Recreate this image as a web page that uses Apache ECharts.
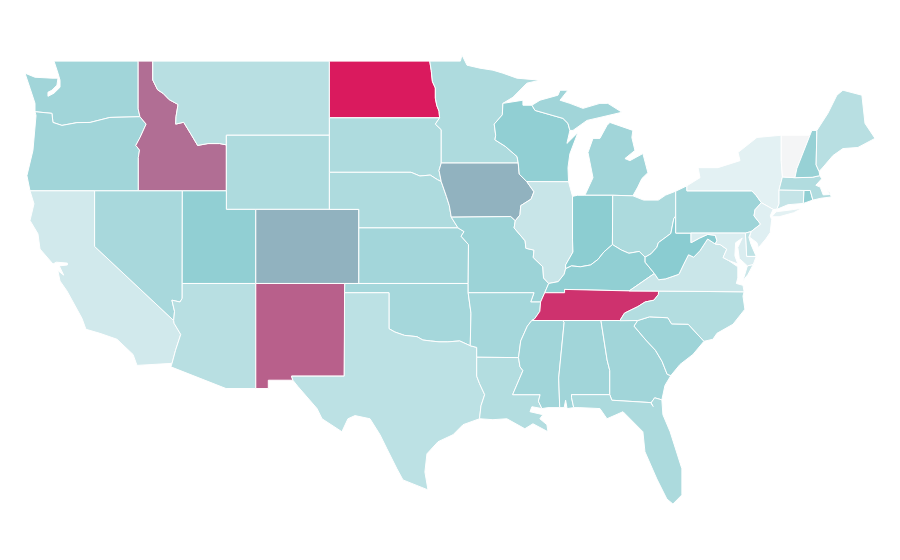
<!DOCTYPE html>
<html style="height: 100%">
<head>
<meta charset="utf-8">
<title>US states</title>
<script src="https://cdn.jsdelivr.net/npm/echarts@6/dist/echarts.min.js"></script>
</head>
<body style="height: 100%; margin: 0; background: #fff">
<div id="container" style="width: 900px; height: 560px"></div>
<script type="text/javascript">
var stateNames = ['Washington','Oregon','California','Idaho','Nevada','Montana','Wyoming','Utah','Arizona','Colorado','New Mexico',
  'North Dakota','South Dakota','Nebraska','Kansas','Oklahoma','Texas','Minnesota','Iowa','Missouri','Arkansas','Louisiana',
  'Wisconsin','Illinois','Michigan','Indiana','Ohio','Kentucky','Tennessee','Mississippi','Alabama','Georgia','Florida',
  'South Carolina','North Carolina','Virginia','West Virginia','Pennsylvania','New York','New Jersey','Delaware','Maryland',
  'Connecticut','Rhode Island','Massachusetts','Vermont','New Hampshire','Maine'];
var stateValues = [38,38,17,76,35,28,32,45,28,57,80,
  100,32,32,37,36,26,32,57,40,36,30,
  45,21,38,47,33,45,93,38,38,38,33,
  39,30,20,48,39,9,11,25,13,
  22,45,31,0,42,28];
// colour ramp, evenly spread over 0..100
var colorStops = ['#f4f5f6','#e1f0f3','#cae6e9','#b3dde0','#9cd3d7','#85cacf','#96a7b8','#a784a2','#b8608b','#c93d75','#da1a5e'];

// state outlines, flat lon,lat lists
var stateShapes = {
  'Washington': [[-122.76,49,-117.04,49,-117.04,46.42,-116.92,46,-118.96,45.96,-120.31,45.69,-121.2,45.68,-122.22,45.53,-122.83,45.69,-122.9,46.18,-124.05,46.27,-124.05,46.72,-124.39,47.54,-124.73,48.35,-124.05,48.13,-122.9,48.08,-122.49,48.08,-122.56,47.7,-122.9,47.43,-123.17,47.32,-123.17,47.1,-122.76,47.27,-122.35,47.59,-122.35,47.97,-122.49,48.35]],
  'Oregon': [[-124.05,46.27,-122.9,46.18,-122.83,45.69,-122.22,45.53,-121.2,45.68,-120.31,45.69,-118.96,45.96,-116.92,46,-116.5,45.6,-116.9,44.9,-117.2,44.45,-116.95,44.2,-117.03,43.8,-117.03,42,-124.39,42,-124.6,42.82,-124.19,44.18,-123.98,46.07]],
  'California': [[-124.39,42,-120,42,-120,39,-114.63,35,-114.6,34.85,-114.15,34.25,-114.5,33.4,-114.74,32.69,-117.12,32.58,-117.39,33.17,-118.48,33.99,-119.64,34.31,-120.59,34.53,-120.86,35.12,-121.88,36.6,-122.35,37.13,-122.5,37.7,-122.45,37.75,-122.1,37.45,-122.4,37.95,-121.85,38,-121.85,38.1,-122.6,38.15,-122.83,38.05,-123.71,38.86,-123.85,39.68,-124.39,40.4,-124.12,41.3]],
  'Idaho': [[-117.04,49,-116.05,49,-116.05,47.98,-115.72,47.45,-115.35,47.26,-114.93,46.92,-114.33,46.66,-114.47,46,-114.49,45.6,-113.95,45.7,-113.45,45.05,-113,44.45,-112.3,44.55,-111.5,44.55,-111.05,44.48,-111.05,42,-117.03,42,-117.03,43.8,-116.95,44.2,-117.2,44.45,-116.9,44.9,-116.5,45.6,-116.92,46,-117.04,46.42]],
  'Nevada': [[-120,42,-114.04,42,-114.05,37,-114.05,36.2,-114.2,36,-114.75,36.1,-114.57,35.5,-114.63,35,-120,39]],
  'Montana': [[-116.05,49,-104.05,49,-104.05,45,-111.05,45,-111.05,44.48,-111.5,44.55,-112.3,44.55,-113,44.45,-113.45,45.05,-113.95,45.7,-114.49,45.6,-114.47,46,-114.33,46.66,-114.93,46.92,-115.35,47.26,-115.72,47.45,-116.05,47.98]],
  'Wyoming': [[-111.05,45,-104.05,45,-104.05,41,-111.05,41]],
  'Utah': [[-114.04,42,-111.05,42,-111.05,41,-109.05,41,-109.05,37,-114.05,37]],
  'Arizona': [[-114.05,37,-109.05,37,-109.05,31.33,-111.07,31.33,-114.82,32.5,-114.74,32.69,-114.5,33.4,-114.15,34.25,-114.6,34.85,-114.63,35,-114.57,35.5,-114.75,36.1,-114.2,36,-114.05,36.2]],
  'Colorado': [[-109.05,41,-102.05,41,-102.05,37,-109.05,37]],
  'New Mexico': [[-109.05,37,-103,37,-103.04,32,-106.62,32,-106.53,31.78,-108.2,31.78,-108.2,31.33,-109.05,31.33]],
  'North Dakota': [[-104.05,49,-97.23,49,-97.13,48.5,-97.05,47.9,-96.85,47.55,-96.85,47,-96.75,46.6,-96.6,46.3,-96.56,45.94,-104.05,45.94]],
  'South Dakota': [[-104.05,45.94,-96.56,45.94,-96.85,45.6,-96.45,45.3,-96.45,43.5,-96.6,43.1,-96.45,42.5,-96.7,42.6,-97.2,42.85,-97.9,42.8,-98.5,43,-104.05,43]],
  'Nebraska': [[-104.05,43,-98.5,43,-97.9,42.8,-97.2,42.85,-96.7,42.6,-96.45,42.5,-96.1,41.7,-95.9,41.2,-95.77,40.58,-95.31,40,-102.05,40,-102.05,41,-104.05,41]],
  'Kansas': [[-102.05,40,-95.31,40,-94.9,39.8,-95.1,39.55,-94.6,39.1,-94.62,37,-102.05,37]],
  'Oklahoma': [[-103,37,-94.62,37,-94.62,36.5,-94.43,35.4,-94.48,33.64,-95.2,33.9,-96,33.85,-96.6,33.85,-97.2,33.9,-97.7,33.95,-98.1,34.13,-98.95,34.2,-99.6,34.38,-100,34.56,-100,36.5,-103.02,36.5]],
  'Texas': [[-103.02,36.5,-100,36.5,-100,34.56,-99.6,34.38,-98.95,34.2,-98.1,34.13,-97.7,33.95,-97.2,33.9,-96.6,33.85,-96,33.85,-95.2,33.9,-94.48,33.64,-94.04,33.55,-94.04,33.02,-94.04,32,-93.85,31.6,-93.5,31,-93.75,30.4,-93.85,29.7,-94.97,29.38,-95.65,28.84,-96.67,28.46,-97.42,27.81,-97.56,26.83,-97.35,25.86,-99.05,26.4,-99.46,27,-100.14,28.08,-100.61,28.84,-101.29,29.7,-102.31,29.87,-102.79,29.7,-103.2,29,-104.55,29.7,-104.89,30.25,-106.2,31.45,-106.53,31.78,-106.62,32,-103.04,32]],
  'Minnesota': [[-97.23,49,-95.15,49,-95.04,49.33,-94.7,48.78,-93.82,48.62,-92.94,48.51,-92.26,48.35,-91.31,48.08,-89.74,47.97,-90.63,47.81,-91.58,47.05,-92.26,46.72,-92.3,46.1,-92.85,45.6,-92.75,45,-92.8,44.75,-92.1,44.4,-91.3,43.85,-91.22,43.5,-96.45,43.5,-96.45,45.3,-96.85,45.6,-96.56,45.94,-96.6,46.3,-96.75,46.6,-96.85,47,-96.85,47.55,-97.05,47.9,-97.13,48.5]],
  'Iowa': [[-96.45,43.5,-91.22,43.5,-91.15,42.9,-90.64,42.5,-90.15,41.95,-90.35,41.55,-91.05,41.2,-91.1,40.7,-91.42,40.38,-91.73,40.61,-95.77,40.58,-95.9,41.2,-96.1,41.7,-96.45,42.5,-96.6,43.1]],
  'Missouri': [[-95.77,40.58,-91.73,40.61,-91.42,40.38,-91.5,40,-90.75,39.3,-90.7,38.9,-90.15,38.8,-90.2,38.4,-89.55,37.9,-89.5,37.3,-89.15,37,-89.42,36.5,-89.7,36,-90.37,36,-90.15,36.5,-94.62,36.5,-94.62,37,-94.6,39.1,-95.1,39.55,-94.9,39.8,-95.31,40]],
  'Arkansas': [[-94.62,36.5,-90.15,36.5,-90.37,36,-89.7,36,-89.75,35.5,-90.1,35.1,-90.3,35,-90.6,34.7,-91.05,33.9,-91.2,33,-94.04,33.02,-94.04,33.55,-94.48,33.64,-94.43,35.4]],
  'Louisiana': [[-94.04,33.02,-91.2,33,-91.1,32.5,-90.9,32.3,-91.6,31,-89.73,31,-89.85,30.65,-89.61,30.25,-90.29,30.35,-90.42,30.08,-89.54,29.92,-89.75,29.7,-89.27,29.38,-89.2,29,-90.22,29.43,-90.77,29.16,-91.99,29.7,-92.94,29.65,-93.85,29.7,-93.75,30.4,-93.5,31,-93.85,31.6,-94.04,32]],
  'Wisconsin': [[-92.26,46.72,-90.9,46.89,-90.9,46.62,-90.29,46.62,-90.08,46.34,-88.18,45.91,-87.84,45.64,-87.71,45.26,-87.91,44.56,-87.16,45.15,-87.71,44,-87.84,43.25,-87.8,42.49,-90.64,42.5,-91.15,42.9,-91.22,43.5,-91.3,43.85,-92.1,44.4,-92.8,44.75,-92.75,45,-92.85,45.6,-92.3,46.1]],
  'Illinois': [[-90.64,42.5,-87.8,42.49,-87.53,41.7,-87.53,39.35,-87.5,38.7,-88,38,-88,37.8,-88.1,37.5,-88.5,37.1,-89.15,37,-89.5,37.3,-89.55,37.9,-90.2,38.4,-90.15,38.8,-90.7,38.9,-90.75,39.3,-91.5,40,-91.42,40.38,-91.1,40.7,-91.05,41.2,-90.35,41.55,-90.15,41.95]],
  'Michigan': [[-86.69,41.76,-84.8,41.76,-83.43,41.73,-83.1,42.2,-82.82,42.66,-82.41,42.98,-82.75,44.01,-83.63,43.63,-83.97,43.74,-83.29,44.18,-83.5,44.88,-83.43,45.26,-84.99,45.69,-85.19,45.53,-85.67,44.83,-86.14,44.83,-86.48,44.07,-86.14,42.71],
    [-90.29,46.62,-89.74,46.89,-88.52,47.16,-88.38,47.43,-87.84,47.43,-88.38,46.89,-87.71,46.72,-86.82,46.45,-85.67,46.72,-85.13,46.72,-84.17,46.24,-85.67,45.96,-86.55,45.8,-87.5,45.26,-87.71,45.26,-87.84,45.64,-88.18,45.91,-90.08,46.34]],
  'Indiana': [[-87.53,41.7,-87.2,41.76,-86.69,41.76,-84.8,41.76,-84.82,39.1,-85.4,38.7,-85.8,38.3,-86.3,38,-87,37.9,-87.6,37.95,-88,37.8,-88,38,-87.5,38.7,-87.53,39.35]],
  'Ohio': [[-84.8,41.76,-83.43,41.73,-82.7,41.5,-81.7,41.5,-81.2,41.77,-80.52,41.98,-80.52,40.64,-80.65,40.5,-80.85,39.7,-81.7,39.2,-81.8,38.95,-82.2,38.6,-82.6,38.42,-83,38.73,-83.7,38.63,-84.2,38.8,-84.82,39.1]],
  'Kentucky': [[-89.15,37,-88.5,37.1,-88.1,37.5,-88,37.8,-87.6,37.95,-87,37.9,-86.3,38,-85.8,38.3,-85.4,38.7,-84.82,39.1,-84.2,38.8,-83.7,38.63,-83,38.73,-82.6,38.42,-82.6,38.15,-81.97,37.54,-83.68,36.6,-88.07,36.68,-88.07,36.5,-89.42,36.5]],
  'Tennessee': [[-90.3,35,-90.1,35.1,-89.75,35.5,-89.7,36,-89.42,36.5,-88.07,36.5,-88.07,36.68,-83.68,36.6,-81.68,36.59,-81.7,36.4,-82,36.1,-82.6,36,-83.1,35.75,-84,35.4,-84.32,34.99]],
  'Mississippi': [[-90.3,35,-88.2,35,-88.1,34.9,-88.47,31.9,-88.4,30.3,-89.2,30.3,-89.61,30.25,-89.85,30.65,-89.73,31,-91.6,31,-90.9,32.3,-91.1,32.5,-91.2,33,-91.05,33.9,-90.6,34.7]],
  'Alabama': [[-88.2,35,-85.6,35,-85.18,32.87,-85,32.3,-85,31,-87.6,31,-87.6,30.85,-87.45,30.3,-87.9,30.25,-88,30.7,-88.1,30.3,-88.4,30.3,-88.47,31.9,-88.1,34.9]],
  'Georgia': [[-85.6,35,-83.1,35,-83.35,34.7,-82.55,33.95,-81.9,33.4,-81.45,32.8,-81.1,32.1,-80.85,32.03,-81.25,31.5,-81.46,30.72,-81.95,30.83,-82.2,30.55,-82.05,30.36,-82.2,30.57,-84.86,30.7,-85,31,-85,32.3,-85.18,32.87]],
  'Florida': [[-87.6,31,-85,31,-84.86,30.7,-82.2,30.57,-82.05,30.36,-82.2,30.55,-81.95,30.83,-81.46,30.72,-81.39,29.92,-80.9,29,-80.1,27,-80.1,25.59,-80.71,25.1,-81.12,25.37,-81.8,26.45,-82.61,27.92,-82.75,29,-84.1,30.08,-85.19,29.7,-85.67,30.25,-87.03,30.3,-87.45,30.3,-87.6,30.85]],
  'South Carolina': [[-83.1,35,-82.3,35.2,-81.05,35.15,-80.8,34.82,-79.67,34.8,-78.6,33.88,-79.35,33.17,-80.23,32.63,-80.85,32.03,-81.1,32.1,-81.45,32.8,-81.9,33.4,-82.55,33.95,-83.35,34.7]],
  'North Carolina': [[-84.32,34.99,-84,35.4,-83.1,35.75,-82.6,36,-82,36.1,-81.7,36.4,-81.68,36.59,-75.87,36.55,-75.95,36.32,-75.82,35.61,-76.63,34.8,-77.72,34.31,-77.99,33.99,-78.6,33.88,-79.67,34.8,-80.8,34.82,-81.05,35.15,-82.3,35.2,-83.1,35]],
  'Virginia': [[-83.68,36.6,-81.97,37.54,-81.68,37.2,-81.2,37.25,-80.3,37.5,-80,38,-79.65,38.55,-79.3,38.42,-78.87,38.77,-78.35,39.4,-77.83,39.13,-77.5,39.1,-77.05,38.85,-77.3,38.4,-76.95,38.25,-76.3,37.9,-76.3,37.3,-76.4,37,-75.95,36.9,-75.87,36.55,-81.68,36.59],
    [-75.95,37.15,-75.65,37.95,-75.25,38.03,-75.6,37.5]],
  'West Virginia': [[-82.6,38.42,-82.2,38.6,-81.8,38.95,-81.7,39.2,-80.85,39.7,-80.65,40.5,-80.52,40.64,-80.52,39.72,-79.48,39.72,-79.48,39.2,-78.9,39.45,-78.35,39.65,-77.83,39.6,-77.72,39.32,-77.83,39.13,-78.35,39.4,-78.87,38.77,-79.3,38.42,-79.65,38.55,-80,38,-80.3,37.5,-81.2,37.25,-81.68,37.2,-81.97,37.54,-82.6,38.15]],
  'Pennsylvania': [[-80.52,41.98,-79.76,42.27,-79.76,42,-75.35,42,-75.05,41.75,-74.7,41.36,-75.13,40.98,-75.2,40.65,-74.75,40.2,-75.4,39.8,-75.79,39.72,-80.52,39.72]],
  'New York': [[-79.76,42.27,-79.76,42,-75.35,42,-75.05,41.75,-74.7,41.36,-73.9,41,-73.65,41,-73.5,41.3,-73.5,42.05,-73.27,42.75,-73.35,43.6,-73.35,45,-75,44.88,-76.29,44.07,-76.15,43.63,-77.65,43.25,-79,43.25,-78.87,42.71],
    [-74,40.6,-73.7,40.87,-72.6,40.98,-71.9,41.07,-72.5,40.82,-73.5,40.6]],
  'New Jersey': [[-75.13,40.98,-74.7,41.36,-73.9,41,-74.1,40.65,-74,40.45,-74.1,39.75,-74.4,39.4,-74.9,38.93,-75,39.2,-75.5,39.5,-75.4,39.8,-74.75,40.2,-75.2,40.65]],
  'Delaware': [[-75.79,39.72,-75.4,39.8,-75.55,39.5,-75.4,39.1,-75.05,38.46,-75.7,38.46]],
  'Maryland': [[-79.48,39.72,-75.79,39.72,-75.7,38.46,-75.05,38.46,-75.25,38.03,-75.65,37.95,-76.2,38.35,-76.3,38.95,-76,39.45,-76.45,39.2,-76.5,38.5,-76.3,38.05,-76.95,38.25,-77.3,38.4,-77.05,38.85,-77.5,39.1,-77.83,39.13,-77.72,39.32,-77.83,39.6,-78.35,39.65,-78.9,39.45,-79.48,39.2]],
  'Connecticut': [[-73.5,42.05,-71.8,42.02,-71.85,41.32,-72.9,41.25,-73.65,41,-73.5,41.3]],
  'Rhode Island': [[-71.8,42.02,-71.38,42.02,-71.2,41.5,-71.85,41.32]],
  'Massachusetts': [[-73.5,42.05,-71.8,42.02,-71.38,42.02,-71.2,41.5,-70.65,41.6,-69.95,41.67,-70.05,41.9,-70.25,42.07,-70.05,41.8,-70.5,41.78,-70.7,42.2,-71,42.3,-70.6,42.65,-70.73,42.82,-71.25,42.73,-72.42,42.71,-73.27,42.75]],
  'Vermont': [[-73.35,45,-71.4,45,-72.29,43.2,-72.42,42.71,-73.27,42.75,-73.35,43.6]],
  'New Hampshire': [[-71.4,45,-71.27,45.26,-70.93,45.26,-70.98,43.4,-70.78,43.05,-70.73,42.82,-71.25,42.73,-72.42,42.71,-72.29,43.2]],
  'Maine': [[-70.93,45.26,-70.18,46.18,-69.57,47.16,-69.16,47.43,-67.87,47.16,-67.66,45.64,-66.98,44.83,-68.14,44.34,-69.16,44.28,-69.84,43.9,-70.59,43.2,-70.78,43.05,-70.98,43.4]]
};

function toRing(flat) {
  var ring = [];
  for (var i = 0; i < flat.length; i += 2) {
    ring.push([flat[i], flat[i + 1]]);
  }
  ring.push([flat[0], flat[1]]);
  return [ring];
}

var features = stateNames.map(function (name) {
  return {
    type: 'Feature',
    properties: { name: name },
    geometry: { type: 'MultiPolygon', coordinates: stateShapes[name].map(toRing) }
  };
});
echarts.registerMap('usa', { type: 'FeatureCollection', features: features });

var seriesData = stateNames.map(function (name, i) {
  return { name: name, value: stateValues[i] };
});

var myChart = echarts.init(document.getElementById('container'));
var option = {
  animation: false,
  backgroundColor: '#fff',
  visualMap: {
    show: false,
    type: 'continuous',
    min: 0,
    max: 100,
    inRange: { color: colorStops }
  },
  series: [{
    type: 'map',
    map: 'usa',
    roam: false,
    aspectScale: 0.798,
    left: 25,
    top: 55,
    width: 850,
    height: 449,
    selectedMode: false,
    label: { show: false },
    emphasis: { disabled: true },
    itemStyle: { borderColor: '#fff', borderWidth: 1 },
    data: seriesData
  }]
};
myChart.setOption(option);
</script>
</body>
</html>
